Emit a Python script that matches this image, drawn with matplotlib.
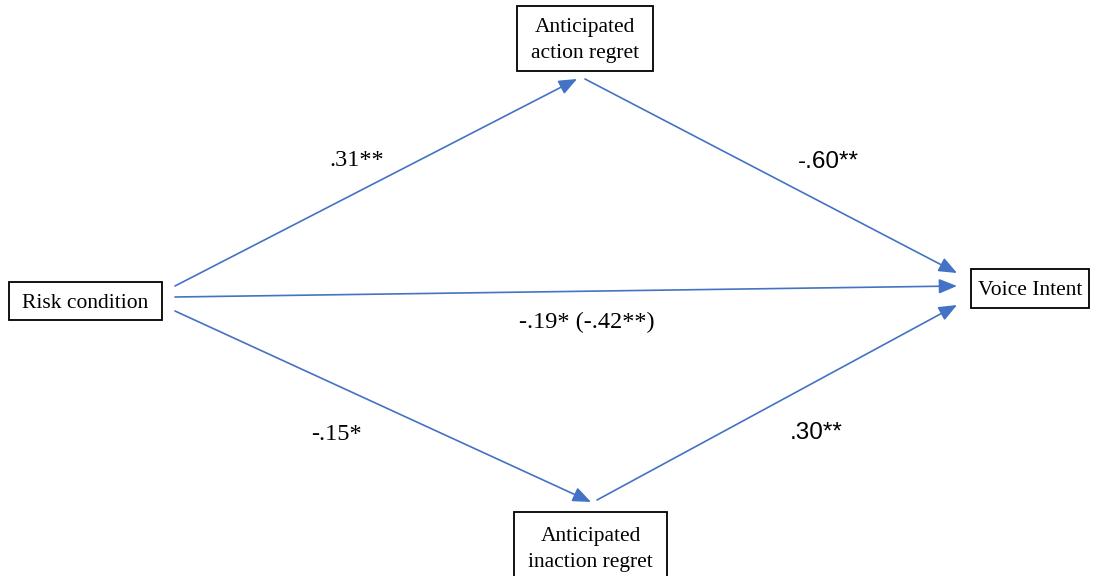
import matplotlib.pyplot as plt
from matplotlib.patches import Rectangle, FancyArrowPatch

# path model: nodes and coefficients
nodes = ["Risk condition", "Anticipated\naction regret", "Anticipated\ninaction regret", "Voice Intent"]
paths = [("Risk condition", "Anticipated\naction regret"),
         ("Anticipated\naction regret", "Voice Intent"),
         ("Risk condition", "Voice Intent"),
         ("Risk condition", "Anticipated\ninaction regret"),
         ("Anticipated\ninaction regret", "Voice Intent")]
coefs = [".31**", "-.60**", "-.19* (-.42**)", "-.15*", ".30**"]

# layout in pixels (x, y from top-left)
boxes = {"Risk condition": (9, 282, 153, 38),
         "Anticipated\naction regret": (517, 6, 136, 65),
         "Anticipated\ninaction regret": (514, 512, 153, 72),
         "Voice Intent": (971, 269, 118, 39)}
ends = [((175, 286), (577, 79)),
        ((585, 79), (957, 273)),
        ((175, 297), (957, 286)),
        ((175, 311), (591, 502)),
        ((597, 500), (957, 305))]
label_pos = [(357, 161, "Liberation Serif"),
             (828, 162, "Liberation Sans"),
             (587, 322, "Liberation Serif"),
             (336, 435, "Liberation Serif"),
             (816, 433, "Liberation Sans")]

fig = plt.figure(figsize=(10.94, 5.76), dpi=100)
ax = fig.add_axes([0, 0, 1, 1])
ax.set_xlim(0, 1094)
ax.set_ylim(576, 0)
ax.axis("off")

for name in nodes:
    x, y, w, h = boxes[name]
    ax.add_patch(Rectangle((x, y), w, h, facecolor="white", edgecolor="black", lw=1.3))
    ax.text(x + w / 2, y + h / 2 + 2, name, ha="center", va="center",
            family="Liberation Serif", fontsize=15.5, linespacing=1.5)

for (p0, p1), c, (lx, ly, fam) in zip(ends, coefs, label_pos):
    arr = FancyArrowPatch(p0, p1, arrowstyle="-|>,head_length=11,head_width=4.5",
                          color="#4472C4", lw=1.2, mutation_scale=1, shrinkA=0, shrinkB=0)
    ax.add_patch(arr)
    ax.text(lx, ly, c, ha="center", va="center", family=fam, fontsize=17.5)

fig.savefig("out.png", dpi=100)
